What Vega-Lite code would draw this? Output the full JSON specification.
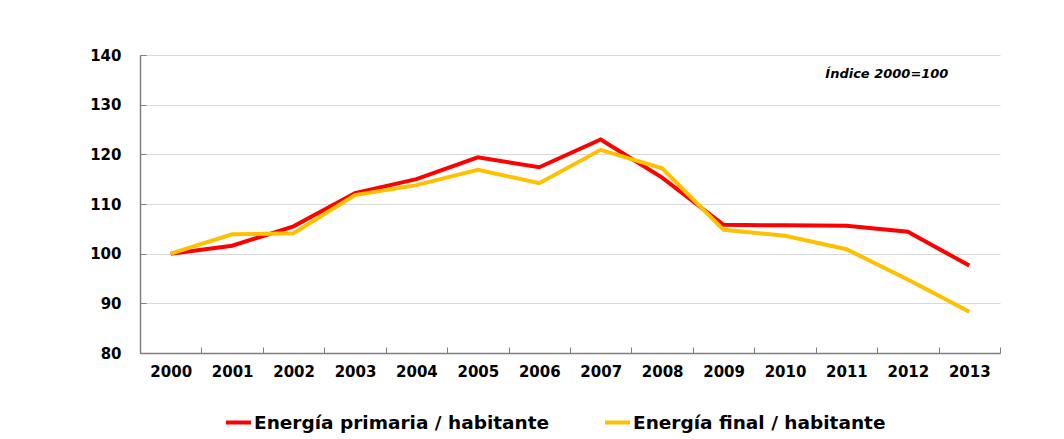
{
  "$schema": "https://vega.github.io/schema/vega-lite/v6.json",
  "autosize": {"type": "none"},
  "padding": {"left": 140, "top": 55, "right": 64, "bottom": 86},
  "width": 860,
  "height": 298,
  "background": "white",
  "config": {
    "view": {"stroke": null},
    "font": "DejaVu Sans"
  },
  "datasets": {
    "series": [
      {"year": "2000", "serie": "Energía primaria / habitante", "value": 100},
      {"year": "2001", "serie": "Energía primaria / habitante", "value": 101.6},
      {"year": "2002", "serie": "Energía primaria / habitante", "value": 105.5},
      {"year": "2003", "serie": "Energía primaria / habitante", "value": 112.2},
      {"year": "2004", "serie": "Energía primaria / habitante", "value": 115.0},
      {"year": "2005", "serie": "Energía primaria / habitante", "value": 119.4},
      {"year": "2006", "serie": "Energía primaria / habitante", "value": 117.4},
      {"year": "2007", "serie": "Energía primaria / habitante", "value": 123.0},
      {"year": "2008", "serie": "Energía primaria / habitante", "value": 115.3},
      {"year": "2009", "serie": "Energía primaria / habitante", "value": 105.8},
      {"year": "2010", "serie": "Energía primaria / habitante", "value": 105.7},
      {"year": "2011", "serie": "Energía primaria / habitante", "value": 105.6},
      {"year": "2012", "serie": "Energía primaria / habitante", "value": 104.4},
      {"year": "2013", "serie": "Energía primaria / habitante", "value": 97.6},
      {"year": "2000", "serie": "Energía final / habitante", "value": 100},
      {"year": "2001", "serie": "Energía final / habitante", "value": 103.9},
      {"year": "2002", "serie": "Energía final / habitante", "value": 104.1},
      {"year": "2003", "serie": "Energía final / habitante", "value": 111.8},
      {"year": "2004", "serie": "Energía final / habitante", "value": 113.8},
      {"year": "2005", "serie": "Energía final / habitante", "value": 116.9},
      {"year": "2006", "serie": "Energía final / habitante", "value": 114.2},
      {"year": "2007", "serie": "Energía final / habitante", "value": 120.9},
      {"year": "2008", "serie": "Energía final / habitante", "value": 117.2},
      {"year": "2009", "serie": "Energía final / habitante", "value": 104.8},
      {"year": "2010", "serie": "Energía final / habitante", "value": 103.6},
      {"year": "2011", "serie": "Energía final / habitante", "value": 100.9},
      {"year": "2012", "serie": "Energía final / habitante", "value": 94.8},
      {"year": "2013", "serie": "Energía final / habitante", "value": 88.3}
    ],
    "note": [{"year": "2012", "value": 136.2, "label": "Índice 2000=100"}]
  },
  "layer": [
    {
      "data": {"name": "series"},
      "mark": {"type": "line", "strokeWidth": 4, "strokeJoin": "miter"},
      "encoding": {
        "x": {
          "field": "year", "type": "ordinal",
          "scale": {"type": "band", "paddingInner": 0, "paddingOuter": 0},
          "axis": {
            "title": null, "labelAngle": 0, "tickBand": "extent",
            "labelFont": "DejaVu Sans", "labelFontWeight": "bold", "labelFontSize": 15,
            "labelColor": "#000000", "labelPadding": 17,
            "domainColor": "#7f7f7f", "domainWidth": 1.5,
            "tickColor": "#7f7f7f", "tickSize": -6, "tickWidth": 1,
            "grid": false
          }
        },
        "y": {
          "field": "value", "type": "quantitative",
          "scale": {"domain": [80, 140], "nice": false, "zero": false},
          "axis": {
            "title": null, "values": [80, 90, 100, 110, 120, 130, 140],
            "labelFont": "DejaVu Sans", "labelFontWeight": "bold", "labelFontSize": 15,
            "labelColor": "#000000", "labelPadding": 25,
            "domainColor": "#7f7f7f", "domainWidth": 1.5,
            "tickColor": "#7f7f7f", "tickSize": -6, "tickWidth": 1,
            "grid": true, "gridColor": "#d9d9d9", "gridWidth": 1
          }
        },
        "color": {
          "field": "serie", "type": "nominal",
          "scale": {
            "domain": ["Energía primaria / habitante", "Energía final / habitante"],
            "range": ["#ff0000", "#ffc000"]
          },
          "legend": {
            "title": null, "orient": "none", "direction": "horizontal",
            "legendX": 84, "legendY": 353,
            "symbolType": "stroke", "symbolSize": 625, "symbolStrokeWidth": 4,
            "labelFont": "DejaVu Sans", "labelFontWeight": "bold", "labelFontSize": 18.5,
            "labelColor": "#000000", "labelOffset": 1, "columnPadding": 47,
            "labelLimit": 400
          }
        }
      }
    },
    {
      "data": {"name": "note"},
      "mark": {
        "type": "text", "font": "DejaVu Sans", "fontStyle": "italic", "fontWeight": "bold",
        "fontSize": 13, "color": "#000000", "align": "center", "baseline": "middle", "dx": -21
      },
      "encoding": {
        "x": {"field": "year", "type": "ordinal"},
        "y": {"field": "value", "type": "quantitative"},
        "text": {"field": "label"}
      }
    }
  ]
}
